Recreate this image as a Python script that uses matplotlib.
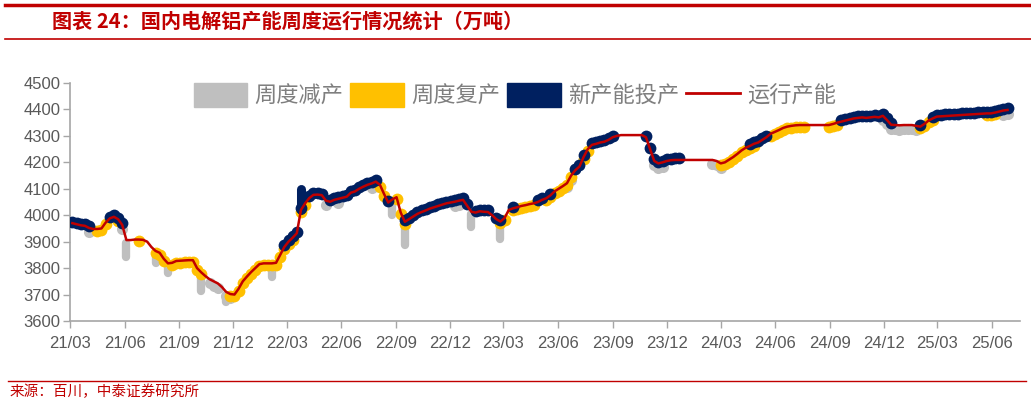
import numpy as np
import pandas as pd
import matplotlib
matplotlib.use('Agg')
import matplotlib.pyplot as plt
import matplotlib.dates as mdates
import matplotlib.patches as mpatches
from matplotlib.lines import Line2D

plt.rcParams['font.family'] = ['Noto Sans CJK SC', 'DejaVu Sans']

# weekly running capacity (10k t), from 2021-03-05
capacity = [
    3970, 3966, 3962, 3960, 3952, 3948, 3948, 3950, 3972, 3988, 3994, 3985, 3963,
    3906, 3906, 3908, 3908, 3907, 3900, 3880, 3865, 3858, 3835, 3818, 3820, 3827,
    3828, 3829, 3830, 3830, 3800, 3784, 3770, 3758, 3750, 3742, 3728, 3710, 3702,
    3700, 3722, 3750, 3768, 3785, 3800, 3815, 3818, 3818, 3818, 3820, 3850, 3880,
    3900, 3915, 3932, 4020, 4045, 4065, 4077, 4078, 4076, 4055, 4051, 4058, 4062,
    4066, 4070, 4085, 4090, 4100, 4108, 4115, 4120, 4127, 4115, 4080, 4048, 4060,
    4068, 4010, 3975, 3985, 3995, 4005, 4012, 4018, 4025, 4030, 4035, 4040, 4045,
    4048, 4051, 4055, 4058, 4035, 4013, 4010, 4015, 4013, 4012, 4000, 3985, 3976,
    3990, 4020, 4026, 4030, 4035, 4038, 4042, 4045, 4050, 4058, 4064, 4075, 4090,
    4100, 4110, 4121, 4150, 4170, 4184, 4220, 4250, 4266, 4270, 4275, 4278, 4285,
    4295, 4300, 4303, 4303, 4303, 4303, 4303, 4303, 4295, 4250, 4205, 4196, 4200,
    4205, 4208, 4209, 4209, 4209, 4209, 4209, 4209, 4209, 4209, 4209, 4209, 4205,
    4196, 4200, 4210, 4220, 4232, 4245, 4255, 4262, 4270, 4275, 4285, 4295, 4308,
    4315, 4322, 4330, 4335, 4338, 4340, 4341, 4341, 4341, 4341, 4341, 4341, 4341,
    4341, 4345, 4350, 4354, 4358, 4362, 4366, 4368, 4370, 4368, 4370, 4372, 4370,
    4376, 4360, 4342, 4341, 4340, 4341, 4341, 4341, 4338, 4335, 4345, 4358, 4366,
    4373, 4374, 4375, 4376, 4377, 4378, 4379, 4380, 4381, 4382, 4383, 4384, 4385,
    4385, 4388, 4392, 4396, 4398,
]
weeks = pd.date_range('2021-03-05', periods=len(capacity), freq='W-FRI')

# weeks (index ranges) flagged per event type
cut_weeks = [(4, 4), (12, 12), (33, 35), (37, 38), (61, 61), (64, 64), (72, 73),
             (92, 93), (119, 120), (140, 142), (154, 156), (195, 203), (224, 225)]
resume_weeks = [(6, 8), (11, 11), (16, 16), (20, 22), (24, 31), (38, 53), (55, 56),
                (74, 75), (78, 80), (103, 104), (106, 111), (114, 120), (123, 124),
                (156, 164), (168, 176), (182, 184), (204, 207), (220, 222)]
new_weeks = [(0, 4), (9, 12), (51, 55), (57, 60), (62, 73), (76, 76), (80, 95),
             (97, 100), (102, 103), (106, 106), (112, 113), (115, 115), (121, 123),
             (125, 130), (138, 146), (163, 167), (185, 197), (204, 204), (207, 225)]
# big weekly cuts reach further down
cut_big_weeks = [13, 20, 23, 31, 37, 48, 77, 80, 96, 103]
cut_big_low = [3842, 3820, 3782, 3712, 3672, 3768, 4000, 3887, 3955, 3910]
new_big_weeks = [55]
new_big_high = [4100]

quarter_ticks = pd.date_range('2021-03-01', '2025-06-01', freq='3MS')

c_gray, c_yel, c_navy, c_red = '#bfbfbf', '#ffc000', '#002060', '#c00000'


def expand(ranges):
    out = []
    for a, b in ranges:
        out += list(range(a, b + 1))
    return out


cap = np.array(capacity, dtype=float)

fig = plt.figure(figsize=(10.31, 4.04), dpi=100)
ax = fig.add_axes([70 / 1031, 83 / 404, 950 / 1031, 238 / 404])

# reductions
for w, lo in zip(cut_big_weeks, cut_big_low):
    ax.plot([weeks[w], weeks[w]], [cap[w] - 10, lo], color=c_gray, lw=6,
            solid_capstyle='round', zorder=2)
idx = expand(cut_weeks)
ax.plot(weeks[idx], cap[idx] - 16, 'o', ms=8, color=c_gray, mec='none', zorder=2)

# resumptions
idx = expand(resume_weeks)
ax.plot(weeks[idx], cap[idx] - 7, 'o', ms=8.5, color=c_yel, mec='none', zorder=3)

# new capacity
for w, hi in zip(new_big_weeks, new_big_high):
    ax.plot([weeks[w], weeks[w]], [cap[w], hi], color=c_navy, lw=6.5,
            solid_capstyle='round', zorder=4)
idx = expand(new_weeks)
ax.plot(weeks[idx], cap[idx] + 6, 'o', ms=8.5, color=c_navy, mec='none', zorder=4)

ax.plot(weeks, cap, color=c_red, lw=1.8, zorder=5)

ax.set_ylim(3600, 4500)
ax.set_yticks(np.arange(3600, 4501, 100))
ax.set_xlim(pd.Timestamp('2021-03-01'), pd.Timestamp('2025-07-18'))
ax.set_xticks(quarter_ticks)
ax.xaxis.set_major_formatter(mdates.DateFormatter('%y/%m'))
for s in ['top', 'right']:
    ax.spines[s].set_visible(False)
for s in ['left', 'bottom']:
    ax.spines[s].set_color('#a6a6a6')
    ax.spines[s].set_linewidth(1.2)
ax.tick_params(axis='both', colors='#a6a6a6', length=5, width=1.0,
               labelcolor='#595959', labelsize=12)
ax.tick_params(axis='y', pad=2)
ax.tick_params(axis='x', pad=6)
for lab in ax.get_xticklabels() + ax.get_yticklabels():
    lab.set_family('Liberation Sans')

handles = [mpatches.Patch(color=c_gray), mpatches.Patch(color=c_yel),
           mpatches.Patch(color=c_navy), Line2D([], [], color=c_red, lw=2)]
labels = ['周度减产', '周度复产', '新产能投产', '运行产能']
fig.legend(handles, labels, loc='center', bbox_to_anchor=(515 / 1031, 1 - 95 / 404),
           ncol=4, frameon=False, fontsize=16, labelcolor='#7f7f7f',
           handlelength=2.4, handleheight=1.3, handletextpad=0.35,
           columnspacing=0.3, borderpad=0)

# header and footer
fig.add_artist(Line2D([0.005, 1], [1 - 5 / 404] * 2, transform=fig.transFigure,
                      color=c_red, lw=2.5))
fig.add_artist(Line2D([0.005, 1], [1 - 39 / 404] * 2, transform=fig.transFigure,
                      color=c_red, lw=1.2))
fig.add_artist(Line2D([0.008, 0.995], [1 - 381 / 404] * 2, transform=fig.transFigure,
                      color=c_red, lw=1.0))
fig.text(52 / 1031, 1 - 21 / 404, '图表 24：国内电解铝产能周度运行情况统计（万吨）',
         color=c_red, fontsize=14.5, fontweight='bold', va='center', ha='left')
fig.text(10 / 1031, 1 - 392 / 404, '来源：百川，中泰证券研究所', color=c_red,
         fontsize=10.5, va='center', ha='left')

fig.savefig('out.png', dpi=100)
